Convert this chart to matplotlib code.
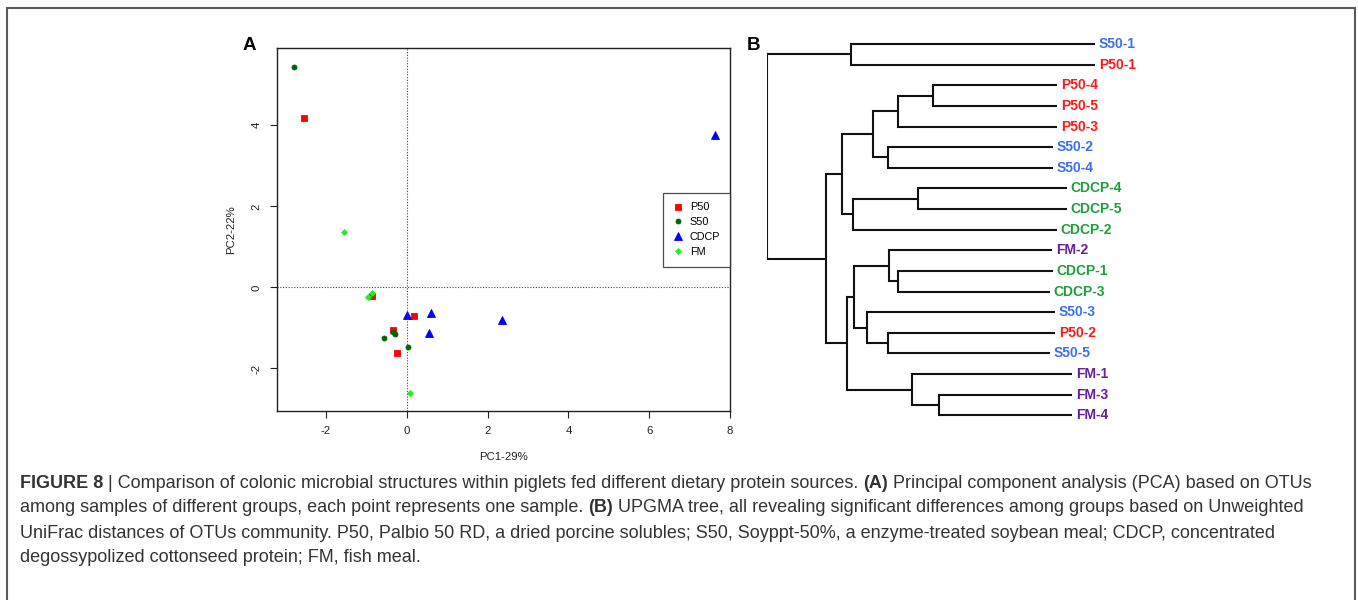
import matplotlib
matplotlib.use("Agg")
import matplotlib.pyplot as plt
from matplotlib.patches import Rectangle

plt.rcParams['font.family'] = ['Liberation Sans', 'DejaVu Sans']
plt.rcParams['axes.unicode_minus'] = False

# ---- PCA data (panel A) ----
groups = ['P50', 'S50', 'CDCP', 'FM']
pc1 = {
    'P50': [-2.55, -0.85, 0.17, -0.35, -0.24],
    'S50': [-2.80, -0.57, -0.34, -0.29, 0.02],
    'CDCP': [7.63, 0.00, 0.61, 0.55, 2.36],
    'FM': [-1.56, -0.96, -0.86, 0.07],
}
pc2 = {
    'P50': [4.18, -0.21, -0.70, -1.04, -1.62],
    'S50': [5.45, -1.24, -1.10, -1.14, -1.47],
    'CDCP': [3.75, -0.67, -0.62, -1.12, -0.81],
    'FM': [1.37, -0.23, -0.15, -2.61],
}
pt_colors = {'P50': '#ff0000', 'S50': '#006400', 'CDCP': '#0000ff', 'FM': '#22ee22'}
pt_markers = {'P50': 's', 'S50': 'o', 'CDCP': '^', 'FM': 'D'}
pt_sizes = {'P50': 4.2, 'S50': 3.6, 'CDCP': 5.2, 'FM': 3.0}

# ---- UPGMA tree (panel B) ----
leaves = ['S50-1', 'P50-1', 'P50-4', 'P50-5', 'P50-3', 'S50-2', 'S50-4',
          'CDCP-4', 'CDCP-5', 'CDCP-2', 'FM-2', 'CDCP-1', 'CDCP-3',
          'S50-3', 'P50-2', 'S50-5', 'FM-1', 'FM-3', 'FM-4']
tips = [0.328, 0.328, 0.290, 0.290, 0.290, 0.286, 0.286,
        0.300, 0.300, 0.290, 0.285, 0.286, 0.283,
        0.288, 0.288, 0.283, 0.305, 0.305, 0.305]
# node name, left child, right child, node position
merges = [
    ('n1', 'S50-1', 'P50-1', 0.0843),
    ('n2', 'P50-4', 'P50-5', 0.166),
    ('n3', 'n2', 'P50-3', 0.1316),
    ('n4', 'S50-2', 'S50-4', 0.121),
    ('n5', 'n3', 'n4', 0.106),
    ('n6', 'CDCP-4', 'CDCP-5', 0.1516),
    ('n7', 'n6', 'CDCP-2', 0.0866),
    ('n8', 'n5', 'n7', 0.075),
    ('n9', 'CDCP-1', 'CDCP-3', 0.1313),
    ('n10', 'FM-2', 'n9', 0.1223),
    ('n11', 'P50-2', 'S50-5', 0.1216),
    ('n12', 'S50-3', 'n11', 0.1006),
    ('n13', 'n10', 'n12', 0.0876),
    ('n14', 'FM-3', 'FM-4', 0.1723),
    ('n15', 'FM-1', 'n14', 0.1456),
    ('n16', 'n13', 'n15', 0.080),
    ('n17', 'n8', 'n16', 0.0593),
    ('root', 'n1', 'n17', 0.0),
]
label_colors = {'S50': '#3d6ff0', 'P50': '#ff1a1a', 'CDCP': '#1e9e3c', 'FM': '#6a1fa0'}

caption_lines = [
    [("FIGURE 8", True), (" | Comparison of colonic microbial structures within piglets fed different dietary protein sources. ", False),
     ("(A)", True), (" Principal component analysis (PCA) based on OTUs", False)],
    [("among samples of different groups, each point represents one sample. ", False), ("(B)", True),
     (" UPGMA tree, all revealing significant differences among groups based on Unweighted", False)],
    [("UniFrac distances of OTUs community. P50, Palbio 50 RD, a dried porcine solubles; S50, Soyppt-50%, "
      "a enzyme-treated soybean meal; CDCP, concentrated", False)],
    [("degossypolized cottonseed protein; FM, fish meal.", False)],
]

W, H = 1358, 600
fig = plt.figure(figsize=(W / 100, H / 100), dpi=100)

# outer frame
fig.patches.append(Rectangle((7 / W, -0.1), (1355 - 7) / W, 1 - 8 / H + 0.1,
                             transform=fig.transFigure, fill=False,
                             edgecolor='#5a5a5a', lw=1.5))

# ---- panel A ----
axA = fig.add_axes([276.7 / W, 1 - 411 / H, (730 - 276.7) / W, (411 - 48.3) / H])
for g in groups:
    axA.plot(pc1[g], pc2[g], linestyle='none', marker=pt_markers[g], color=pt_colors[g],
             markersize=pt_sizes[g], markeredgewidth=0.6, label=g)
axA.axhline(0, color='#444444', lw=0.8, ls=(0, (1, 1.5)))
axA.axvline(0, color='#444444', lw=0.8, ls=(0, (1, 1.5)))
axA.set_xlim(-3.22, 8.0)
axA.set_ylim(-3.05, 5.9)
axA.set_xticks([-2, 0, 2, 4, 6, 8])
axA.set_yticks([-2, 0, 2, 4])
axA.tick_params(direction='out', length=5, width=0.8, labelsize=8.2, colors='#222222', pad=6)
plt.setp(axA.get_yticklabels(), rotation=90, va='center')
for s in axA.spines.values():
    s.set_linewidth(1.0)
    s.set_color('#222222')
axA.set_xlabel('PC1-29%', fontsize=8.2, labelpad=11, color='#222222')
axA.set_ylabel('PC2-22%', fontsize=8.2, labelpad=11, color='#222222')
leg = axA.legend(loc='center right', bbox_to_anchor=(1.0, 0.5), fontsize=7.8, frameon=True,
                 fancybox=False, edgecolor='#222222', handlelength=1.0, handletextpad=0.6,
                 labelspacing=0.45, borderpad=0.9, borderaxespad=0)
leg.get_frame().set_linewidth(0.9)
fig.text(243 / W, 1 - 49.5 / H, 'A', fontsize=13.5, fontweight='bold', ha='left', va='baseline')

# ---- panel B ----
axB = fig.add_axes([766.7 / W, 1 - 430 / H, 450 / W, 400 / H])
axB.set_xlim(0, 0.45)
axB.set_ylim(-18.71, 0.679)
axB.axis('off')
pos = {}
for i, name in enumerate(leaves):
    pos[name] = (tips[i], -i)
for node, a, b, h in merges:
    ya, yb = pos[a][1], pos[b][1]
    axB.plot([h, h], [ya, yb], color='#111111', lw=1.5, solid_capstyle='projecting')
    axB.plot([h, pos[a][0]], [ya, ya], color='#111111', lw=1.5, solid_capstyle='butt')
    axB.plot([h, pos[b][0]], [yb, yb], color='#111111', lw=1.5, solid_capstyle='butt')
    pos[node] = (h, (ya + yb) / 2)
for i, name in enumerate(leaves):
    grp = name.split('-')[0]
    axB.annotate(name, (tips[i], -i), xytext=(3, 0), textcoords='offset points',
                 ha='left', va='center', fontsize=10, fontweight='bold',
                 color=label_colors[grp])
fig.text(746.7 / W, 1 - 49.5 / H, 'B', fontsize=13.5, fontweight='bold', ha='left', va='baseline')

# ---- caption ----
renderer = fig.canvas.get_renderer()
base_y = 487.5
for k, pieces in enumerate(caption_lines):
    x = 20 / W
    y = 1 - (base_y + 25 * k) / H
    for txt, bold in pieces:
        t = fig.text(x, y, txt, fontsize=13, fontweight='bold' if bold else 'normal',
                     color='#333333', ha='left', va='baseline')
        x = t.get_window_extent(renderer=renderer).x1 / fig.bbox.width

fig.savefig('out.png', dpi=100)
